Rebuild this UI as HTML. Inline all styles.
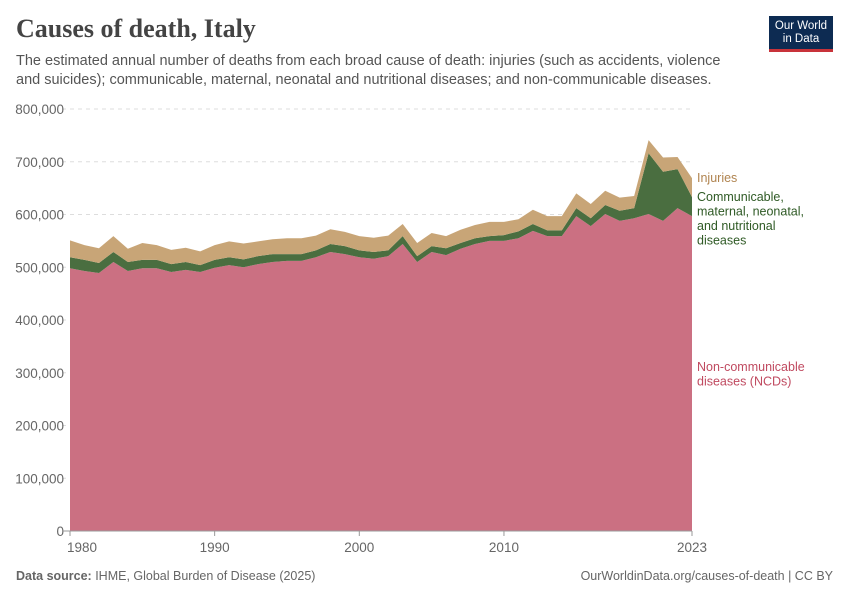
<!DOCTYPE html>
<html><head><meta charset="utf-8"><style>
body{margin:0;background:#fff;font-family:"Liberation Sans",sans-serif;}
#wrap{position:relative;width:850px;height:600px;overflow:hidden;}
.title{position:absolute;left:16px;top:14px;font-family:"Liberation Serif",serif;font-size:26px;color:#444;font-weight:bold;}
.sub{position:absolute;left:16px;top:52px;width:720px;font-size:14.5px;line-height:19px;color:#555;}
.logo{position:absolute;left:769px;top:16px;width:64px;height:36px;background:#0d2b52;color:#fff;font-size:11.5px;line-height:13px;text-align:center;padding-top:4px;box-sizing:border-box;border-bottom:3px solid #c8333a;}
.foot{position:absolute;top:569px;font-size:12.5px;color:#666;}
</style></head><body><div id="wrap">
<div class="title">Causes of death, Italy</div>
<div class="sub">The estimated annual number of deaths from each broad cause of death: injuries (such as accidents, violence and suicides); communicable, maternal, neonatal and nutritional diseases; and non-communicable diseases.</div>
<div class="logo">Our World<br>in Data</div>
<svg id="chart" width="850" height="600" style="position:absolute;left:0;top:0"></svg>
<div class="foot" style="left:16px"><b>Data source:</b> IHME, Global Burden of Disease (2025)</div>
<div class="foot" style="right:17px">OurWorldinData.org/causes-of-death | CC BY</div>
</div>
<script>
const years=[];for(let y=1980;y<=2023;y++)years.push(y);
const ncd=[498,493,489,510,493,498,498,491,495,491,499,504,500,506,510,512,512,519,529,525,519,516,521,544,510,529,523,535,544,550,550,555,569,559,559,597,578,601,588,593,601,588,612,597];
const comm=[21,21,19,19,17,16,16,15,15,13,15,15,15,15,15,13,13,13,15,15,13,13,11,15,11,11,13,11,11,9,11,13,13,11,11,15,15,17,19,19,115,93,74,36];
const inj=[32,28,28,30,25,32,28,27,27,26,28,30,30,28,28,30,30,28,28,27,27,27,28,23,25,25,23,25,25,27,25,23,27,27,27,28,27,27,25,23,25,27,23,36];
const yTicks=[0,100000,200000,300000,400000,500000,600000,700000,800000];
const xTicks=[1980,1990,2000,2010,2023];
const svg=document.getElementById('chart');const NS='http://www.w3.org/2000/svg';
const x=y=>70+(y-1980)*(692-70)/43;
const yv=v=>531-v*(531-109)/800000;
function mk(t,a){const e=document.createElementNS(NS,t);for(const k in a)e.setAttribute(k,a[k]);svg.appendChild(e);return e;}
yTicks.forEach(v=>{
 const l=mk('line',{x1:62,x2:692,y1:yv(v),y2:yv(v),stroke:v?'#ddd':'#999','stroke-dasharray':v?'4,4':''});
 
 
 const t=mk('text',{x:64,y:yv(v)+5,'text-anchor':'end','font-size':13.5,fill:'#666','font-family':'Liberation Sans'});t.textContent=v.toLocaleString('en-US');
 
 
});
const b0=ncd.map(()=>0),b1=ncd.slice(),b2=ncd.map((v,i)=>v+comm[i]),b3=b2.map((v,i)=>v+inj[i]);
function area(lo,hi,col,name){
 let d='M'+years.map((y,i)=>x(y)+','+yv(hi[i]*1000)).join('L');
 for(let i=years.length-1;i>=0;i--)d+='L'+x(years[i])+','+yv(lo[i]*1000);
 const p=mk('path',{d:d+'Z',fill:col});
 
 
}
area(b0,b1,'#cb7082','ncd-area');area(b1,b2,'#4a6e40','communicable-area');area(b2,b3,'#c8a577','injuries-area');
mk('line',{x1:62,x2:692,y1:531,y2:531,stroke:'#999'});
xTicks.forEach(y=>{const t=mk('text',{x:x(y)+(y==1980?12:0),y:552,'text-anchor':'middle','font-size':13.5,fill:'#666','font-family':'Liberation Sans'});t.textContent=y;
 
 
 mk('line',{x1:x(y),x2:x(y),y1:531,y2:536,stroke:'#999'});});
function lab(lines,y0,col,name){lines.forEach((s,i)=>{const t=mk('text',{x:697,y:y0+i*14.5,'font-size':12.5,fill:col,'font-family':'Liberation Sans'});t.textContent=s;
 
 });}
lab(['Injuries'],182,'#b08450','legend-injuries');
lab(['Communicable,','maternal, neonatal,','and nutritional','diseases'],201,'#2f5a25','legend-communicable');
lab(['Non-communicable','diseases (NCDs)'],371,'#c04a60','legend-ncd');
</script></body></html>
